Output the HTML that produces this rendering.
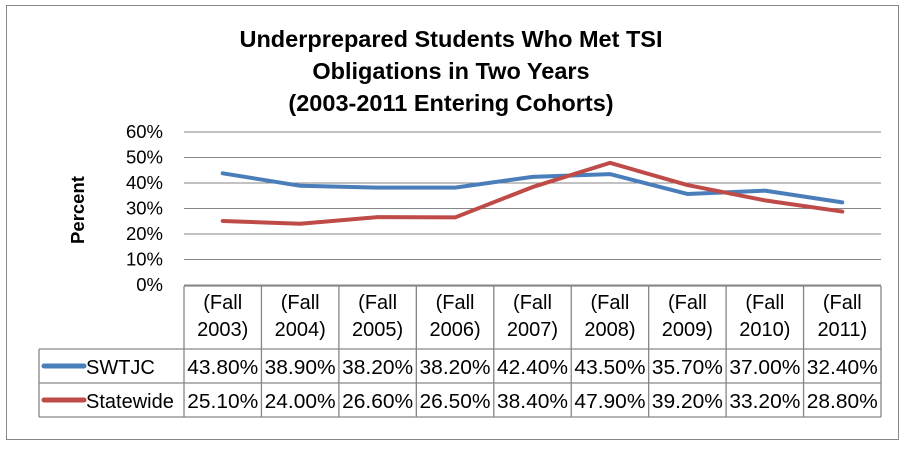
<!DOCTYPE html>
<html><head><meta charset="utf-8"><style>
body{margin:0;background:#fff;font-family:"Liberation Sans",sans-serif}
</style></head><body>
<svg width="906" height="449" xmlns="http://www.w3.org/2000/svg" font-family="Liberation Sans, sans-serif">
<rect x="6.5" y="5.5" width="892" height="434" fill="#fff" stroke="#868686"/>
<g font-weight="bold" font-size="23.5" text-anchor="middle" fill="#000">
<text x="451" y="47">Underprepared Students Who Met TSI</text>
<text x="451" y="79">Obligations in Two Years</text>
<text x="451" y="111">(2003-2011 Entering Cohorts)</text>
</g>
<text transform="translate(84,210) rotate(-90)" text-anchor="middle" font-weight="bold" font-size="18.5">Percent</text>
<g id="grid"></g><g id="yt" font-size="18.5" text-anchor="end"></g>
<g id="tbl" font-size="20"></g>
<g id="lines"></g>
</svg>
<script>
const categories=["2003","2004","2005","2006","2007","2008","2009","2010","2011"];
const swtjc=[43.8,38.9,38.2,38.2,42.4,43.5,35.7,37.0,32.4];
const statewide=[25.1,24.0,26.6,26.5,38.4,47.9,39.2,33.2,28.8];
const yTicks=[0,10,20,30,40,50,60];
const NS="http://www.w3.org/2000/svg";
const x0=184,x1=881,yTop=132,yBot=285,yMax=60;
const cw=(x1-x0)/categories.length;
const xs=i=>x0+cw*(i+0.5);
const ys=v=>yBot-(v/yMax)*(yBot-yTop);
function mk(t,a,p){const e=document.createElementNS(NS,t);for(const k in a)e.setAttribute(k,a[k]);p.appendChild(e);return e;}
const grid=document.getElementById('grid'),yt=document.getElementById('yt');
yTicks.forEach(v=>{
 const l=mk('line',{x1:x0,x2:x1,y1:ys(v),y2:ys(v),stroke:'#868686','stroke-width':1},grid);
 
 
 const t=mk('text',{x:163,y:ys(v)+6},yt);t.textContent=v+'%';
 
 
});
const tbl=document.getElementById('tbl');
const r0=286,r1=349,r2=383,r3=417,lx=39;
const st={stroke:'#868686','stroke-width':1.3,fill:'none'};
[[x0,r0,x1,r0],[lx,r1,x1,r1],[lx,r2,x1,r2],[lx,r3,x1,r3],[lx,r1,lx,r3]].forEach(c=>{
 const l=mk('line',Object.assign({x1:c[0],y1:c[1],x2:c[2],y2:c[3]},st),tbl);
 
 
});
for(let i=0;i<=categories.length;i++){
 const x=x0+cw*i;
 const l=mk('line',Object.assign({x1:x,y1:r0,x2:x,y2:r3},st),tbl);
 
 
}
categories.forEach((c,i)=>{
 const a=mk('text',{x:xs(i),y:309,'text-anchor':'middle'},tbl);a.textContent='(Fall';
 
 
 const b=mk('text',{x:xs(i),y:336,'text-anchor':'middle'},tbl);b.textContent=c+')';
 
 
 const s=mk('text',{x:xs(i),y:374,'text-anchor':'middle','textLength':71,'lengthAdjust':'spacingAndGlyphs'},tbl);s.textContent=swtjc[i].toFixed(2)+'%';
 
 
 const w=mk('text',{x:xs(i),y:408,'text-anchor':'middle','textLength':71,'lengthAdjust':'spacingAndGlyphs'},tbl);w.textContent=statewide[i].toFixed(2)+'%';
 
 
});
[['SWTJC','#4a7ebb',374,366],['Statewide','#be4b48',408,400]].forEach(r=>{
 const l=mk('line',{x1:44,x2:84,y1:r[3],y2:r[3],stroke:r[1],'stroke-width':5,'stroke-linecap':'round'},tbl);
 
 
 const t=mk('text',{x:86,y:r[2]},tbl);t.textContent=r[0];
 
 
});
const lines=document.getElementById('lines');
[[swtjc,'#4a7ebb','swtjc-line'],[statewide,'#be4b48','statewide-line']].forEach(s=>{
 const p=mk('polyline',{points:s[0].map((v,i)=>xs(i)+','+ys(v)).join(' '),fill:'none',stroke:s[1],'stroke-width':4,'stroke-linejoin':'round','stroke-linecap':'round'},lines);
 
 
});
</script>
</body></html>
